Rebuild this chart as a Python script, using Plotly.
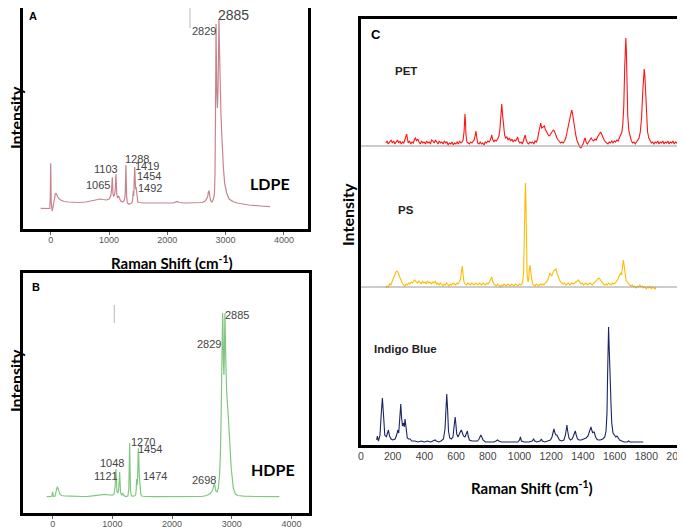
import plotly.graph_objects as go

# ---------------- DATA ----------------
# Panel A : LDPE (Raman shift cm-1, intensity a.u.)
LDPE_X = [-172, -100, -40, -15, -8, -3, 0, 3, 8, 14, 25, 40, 60, 80, 91, 105, 130, 170, 230, 300, 400, 500, 600, 700, 800, 850, 900, 960,
          1000, 1030, 1045, 1052, 1057, 1062, 1068, 1080, 1095, 1108, 1115, 1120, 1125, 1132, 1145, 1165, 1175, 1200, 1240, 1265, 1278,
          1285, 1290, 1295, 1302, 1315, 1340, 1380, 1400, 1412, 1418, 1424, 1430, 1435, 1440, 1446, 1455, 1465, 1472, 1480, 1495, 1520,
          1600, 1800, 2000, 2100, 2170, 2200, 2300, 2400, 2500, 2600, 2650, 2690, 2705, 2716, 2728, 2745, 2765, 2790, 2808, 2818, 2826,
          2833, 2836, 2840, 2850, 2860, 2870, 2878, 2886, 2893, 2905, 2920, 2933, 2947, 2961, 2985, 3018, 3060, 3132, 3200, 3400, 3600, 3762]
LDPE_Y = [20.7, 20.5, 20.5, 20.5, 30, 55, 65.7, 55, 28, 19, 18, 22, 30, 35, 36, 34, 31, 29, 27.5, 27, 26.5, 26.5, 27, 28, 29.5, 30, 29.5, 29,
          30, 33, 40, 48, 51.7, 45, 35, 33, 34, 40, 50, 54.7, 48, 36, 31, 33, 31, 28, 27, 29, 35,
          52, 64, 50, 33, 26, 25, 25.5, 27, 32, 38, 33, 45, 60, 62, 55, 40, 42, 38, 30, 27, 26.5,
          26, 26, 26, 26, 27.5, 26.5, 26, 26, 26, 26.5, 28, 32, 37, 38.3, 33, 28, 27, 30, 35, 55, 110,
          190, 205, 180, 135, 121, 140, 190, 210, 185, 140, 115, 96, 75, 62, 45, 36, 30, 27.3, 26, 24, 23, 22.3]
LDPE_LABELS = ["2885", "2829", "1103", "1065", "1288", "1419", "1454", "1492"]
LDPE_LAB_X = [3127, 2630, 948, 817, 1475, 1647, 1686, 1703]
LDPE_LAB_Y = [214, 198, 59.7, 44, 69.7, 63, 53.3, 40.7]
ARTIFACT_A_X = [2389, 2389]
ARTIFACT_A_Y = [201, 228]

# Panel B : HDPE
HDPE_X = [-100, -40, -15, -6, 0, 6, 15, 40, 60, 70, 77, 88, 100, 120, 150, 200, 300, 400, 500, 600, 700, 800, 876, 950, 1000, 1030,
          1045, 1053, 1060, 1066, 1075, 1090, 1105, 1115, 1122, 1128, 1138, 1160, 1172, 1178, 1185, 1220, 1260, 1275, 1282, 1289, 1295,
          1303, 1320, 1360, 1390, 1400, 1406, 1412, 1420, 1428, 1435, 1441, 1450, 1460, 1475, 1490, 1550, 1700, 1900, 2100, 2300, 2500,
          2580, 2640, 2680, 2698, 2707, 2718, 2732, 2752, 2775, 2795, 2810, 2822, 2832, 2840, 2846, 2852, 2860, 2868, 2876, 2882, 2885,
          2890, 2900, 2915, 2942, 2965, 2990, 3025, 3060, 3100, 3200, 3400, 3600, 3796]
HDPE_Y = [16.3, 16.3, 16.5, 19, 21.3, 18, 16.5, 17, 22, 25.5, 26.3, 25, 22, 19, 17.5, 17, 16.8, 16.5, 16.5, 16.7, 17.2, 18, 18.7, 18, 17.8, 19,
          26, 38, 44, 36, 22, 20, 23, 33, 41, 32, 20, 18, 19, 20, 18, 16.5, 17, 24, 45, 69.7, 48,
          22, 17, 16.8, 18, 24, 34, 28, 30, 50, 64.7, 58, 38, 24, 19, 17, 16.5, 16.3, 16.3, 16.3, 16.3, 16.5,
          17.5, 19.5, 23, 28, 29.7, 27, 22, 21, 25, 38, 60, 100, 150, 185, 200, 190, 150, 138, 160, 195, 200,
          185, 150, 120, 96, 70, 45, 25, 19, 17.5, 16.8, 16.5, 16.3, 16.3]
HDPE_LABELS = ["2885", "2829", "1270", "1454", "1048", "1121", "1474", "2698"]
HDPE_LAB_X = [3092, 2618, 1507, 1630, 998, 893, 1714, 2540]
HDPE_LAB_Y = [198, 168.7, 71.3, 63.7, 49.7, 37, 37, 33]
ARTIFACT_B_X = [1032, 1032]
ARTIFACT_B_Y = [190, 208]

# Panel C : PET, PS, Indigo Blue (intensity above own baseline)
PET = [(156, 3), (165, 5), (172, 2), (180, 4), (190, 6), (198, 3), (206, 5), (214, 2), (222, 4), (230, 6), (238, 3), (246, 5), (254, 2),
       (262, 4), (270, 3), (278, 6), (284, 10), (288, 12), (292, 7), (298, 3), (306, 5), (314, 2), (322, 4), (330, 3), (338, 7), (344, 8),
       (350, 5), (358, 7), (366, 4), (374, 2), (382, 5), (390, 3), (398, 4), (406, 2), (414, 5), (422, 3), (430, 4), (438, 2), (446, 6),
       (454, 5), (462, 3), (470, 6), (478, 4), (486, 2), (494, 5), (502, 3), (510, 4), (518, 2), (526, 5), (534, 3), (542, 4), (550, 1),
       (558, 3), (566, 2), (574, 4), (582, 1), (590, 3), (598, 2), (606, 4), (614, 2), (622, 5), (630, 3), (638, 4), (644, 6), (650, 14),
       (654, 28), (656, 32), (658, 28), (662, 12), (668, 4), (676, 3), (684, 2), (692, 4), (700, 3), (708, 5), (714, 6), (720, 10),
       (725, 15), (730, 9), (736, 3), (744, 2), (752, 4), (760, 2), (768, 3), (776, 1), (784, 4), (792, 3), (800, 5), (808, 4), (816, 6),
       (822, 9), (825, 11), (830, 7), (838, 4), (846, 6), (854, 5), (862, 7), (870, 10), (876, 16), (882, 30), (888, 42), (894, 30),
       (900, 15), (906, 11), (912, 8), (920, 9), (928, 6), (936, 8), (944, 5), (952, 7), (960, 4), (968, 6), (976, 5), (984, 7), (988, 9),
       (994, 5), (1002, 3), (1010, 4), (1018, 2), (1026, 6), (1032, 10), (1036, 11), (1042, 6), (1050, 3), (1058, 2), (1066, 4), (1074, 3),
       (1082, 4), (1090, 2), (1098, 5), (1106, 4), (1114, 7), (1122, 14), (1130, 22), (1134, 23), (1140, 18), (1146, 19), (1152, 20),
       (1157, 20), (1162, 17), (1170, 14), (1178, 12), (1186, 10), (1194, 11), (1200, 13), (1208, 15), (1214, 16), (1220, 15), (1228, 11),
       (1236, 8), (1244, 6), (1252, 4), (1260, 3), (1268, 4), (1276, 3), (1284, 5), (1292, 8), (1300, 14), (1310, 22), (1318, 30),
       (1324, 35), (1329, 36), (1334, 33), (1340, 26), (1348, 18), (1356, 10), (1364, 5), (1372, 2), (1380, -1), (1388, -2), (1396, 0),
       (1404, 3), (1410, 7), (1414, 8), (1420, 4), (1428, 2), (1436, 4), (1444, 6), (1452, 8), (1460, 6), (1468, 5), (1476, 7), (1484, 6),
       (1492, 9), (1500, 11), (1506, 13), (1512, 14), (1518, 12), (1526, 8), (1534, 6), (1542, 4), (1550, 3), (1558, 2), (1566, 4),
       (1574, 3), (1582, 5), (1590, 3), (1598, 5), (1606, 4), (1614, 6), (1622, 5), (1630, 8), (1638, 11), (1646, 14), (1652, 22),
       (1658, 40), (1664, 80), (1668, 104), (1671, 108), (1674, 96), (1678, 62), (1683, 30), (1690, 15), (1698, 8), (1706, 5), (1714, 3),
       (1722, 4), (1730, 2), (1738, 4), (1746, 5), (1754, 8), (1762, 14), (1770, 28), (1778, 55), (1783, 72), (1787, 77), (1791, 70),
       (1796, 48), (1802, 26), (1808, 14), (1816, 8), (1824, 5), (1832, 3), (1840, 4), (1848, 2), (1856, 4), (1864, 3), (1872, 5),
       (1880, 2), (1888, 4), (1896, 3), (1904, 5), (1912, 2), (1920, 4), (1928, 3), (1936, 5), (1944, 2), (1952, 4), (1960, 3),
       (1968, 5), (1976, 2), (1984, 4), (1992, 3), (2000, 4)]
PS = [(156, -1), (164, 1), (172, 0), (180, 3), (188, 2), (196, 5), (204, 8), (212, 12), (220, 15), (228, 16), (236, 14), (244, 10),
      (252, 6), (260, 4), (268, 2), (276, 1), (284, 3), (292, 2), (300, 4), (308, 3), (316, 5), (324, 4), (332, 6), (340, 7), (348, 5),
      (356, 4), (364, 6), (372, 5), (380, 3), (388, 6), (396, 4), (404, 5), (412, 3), (420, 6), (428, 4), (436, 5), (444, 3), (452, 5),
      (460, 4), (468, 6), (476, 3), (484, 4), (492, 2), (500, 4), (508, 3), (516, 1), (524, 3), (532, 2), (540, 4), (548, 2), (556, 1),
      (564, 3), (572, 2), (580, 4), (588, 3), (596, 2), (604, 4), (612, 3), (620, 5), (628, 8), (634, 16), (639, 21), (644, 13),
      (650, 5), (658, 3), (666, 2), (674, 4), (682, 3), (690, 2), (698, 4), (706, 3), (714, 2), (722, 4), (730, 3), (738, 2), (746, 4),
      (754, 3), (762, 2), (770, 4), (778, 3), (786, 2), (794, 4), (802, 3), (810, 5), (818, 8), (825, 10), (830, 6), (838, 3), (846, 2),
      (854, 1), (862, 3), (870, 2), (878, 0), (886, 2), (894, 1), (902, 3), (910, 2), (918, 1), (926, 3), (934, 2), (942, 1), (950, 3),
      (958, 2), (966, 1), (974, 3), (982, 2), (990, 1), (998, 3), (1006, 2), (1014, 3), (1020, 5), (1026, 15), (1030, 45), (1034, 90),
      (1037, 104), (1040, 90), (1044, 45), (1048, 12), (1054, 5), (1058, 8), (1062, 18), (1066, 22), (1070, 16), (1076, 6), (1082, 3),
      (1090, 2), (1098, 1), (1106, 3), (1114, 2), (1122, 1), (1130, 3), (1138, 2), (1146, 3), (1154, 2), (1162, 4), (1170, 5), (1178, 7),
      (1186, 10), (1192, 14), (1196, 13), (1202, 11), (1208, 13), (1214, 16), (1222, 17), (1230, 18), (1236, 14), (1244, 10), (1252, 7),
      (1260, 5), (1268, 4), (1276, 3), (1284, 4), (1292, 2), (1300, 3), (1308, 4), (1316, 2), (1324, 3), (1332, 4), (1340, 3), (1348, 4),
      (1356, 5), (1364, 6), (1372, 7), (1380, 5), (1388, 3), (1396, 4), (1404, 2), (1412, 3), (1420, 4), (1428, 2), (1436, 3), (1444, 4),
      (1452, 3), (1460, 2), (1468, 4), (1476, 5), (1484, 6), (1492, 8), (1500, 9), (1506, 8), (1514, 6), (1522, 4), (1530, 3), (1538, 2),
      (1546, 3), (1554, 2), (1562, 4), (1570, 3), (1578, 2), (1586, 4), (1594, 3), (1602, 4), (1610, 5), (1618, 7), (1626, 10),
      (1632, 13), (1638, 14), (1644, 12), (1650, 20), (1655, 27), (1660, 22), (1666, 12), (1672, 7), (1680, 5), (1688, 3), (1696, 2),
      (1704, 1), (1712, 2), (1720, 0), (1728, 1), (1736, -1), (1744, 1), (1752, 0), (1760, 2), (1768, 0), (1776, 1), (1784, -1),
      (1792, 0), (1800, -2), (1808, 0), (1816, -1), (1824, 1), (1832, -2), (1840, 0), (1848, -1), (1856, -2), (1861, 0)]
INDIGO = [(99, 3), (103, 7), (110, 2), (120, 8), (128, 30), (135, 45), (142, 28), (150, 8), (160, 6), (168, 10), (173, 13), (180, 7),
          (190, 4), (200, 3), (215, 4), (225, 8), (232, 13), (238, 10), (244, 22), (251, 39), (256, 25), (262, 17), (268, 20), (273, 16),
          (278, 24), (284, 14), (292, 5), (300, 4), (310, 4), (320, 2), (340, 2), (360, 1), (380, 2), (400, 1), (420, 2), (440, 1),
          (460, 2), (467, 3), (475, 2), (490, 1), (505, 2), (520, 4), (530, 14), (536, 35), (541, 49), (546, 35), (552, 12), (560, 5),
          (570, 4), (580, 6), (586, 15), (590, 24), (594, 26), (598, 20), (604, 9), (612, 6), (620, 9), (628, 12), (632, 13), (638, 11),
          (646, 7), (656, 6), (664, 9), (671, 12), (676, 7), (684, 3), (700, 2), (720, 2), (735, 2), (745, 4), (752, 7), (756, 8),
          (762, 6), (770, 3), (785, 1), (800, 1), (820, 1), (840, 1), (852, 2), (861, 3), (870, 2), (885, 1), (900, 1), (930, 1),
          (960, 1), (990, 1), (1000, 3), (1006, 6), (1012, 2), (1030, 1), (1060, 1), (1080, 2), (1089, 4), (1096, 2), (1110, 1),
          (1130, 2), (1138, 4), (1144, 2), (1160, 1), (1180, 2), (1195, 3), (1205, 6), (1212, 12), (1217, 14), (1224, 10), (1230, 8),
          (1236, 8), (1242, 6), (1252, 3), (1265, 2), (1280, 3), (1290, 8), (1296, 16), (1299, 18), (1304, 12), (1312, 5), (1322, 3),
          (1332, 4), (1340, 7), (1347, 11), (1352, 12), (1358, 8), (1366, 4), (1376, 3), (1390, 3), (1405, 4), (1420, 5), (1432, 7),
          (1440, 11), (1446, 15), (1451, 16), (1456, 13), (1462, 10), (1467, 11), (1472, 11), (1478, 7), (1486, 4), (1496, 3), (1510, 3),
          (1525, 4), (1538, 6), (1546, 12), (1552, 30), (1556, 70), (1559, 105), (1562, 116), (1565, 100), (1568, 70), (1571, 58),
          (1574, 56), (1577, 40), (1582, 20), (1590, 10), (1600, 7), (1608, 6), (1615, 7), (1622, 5), (1632, 3), (1645, 2), (1660, 1),
          (1680, 1), (1688, 2), (1696, 1), (1720, 1), (1750, 1), (1781, 1)]
C_NAMES = ["PET", "PS", "Indigo Blue"]
C_OFFSETS = [299, 158, 2]          # stacking offsets of each spectrum
X_TICKS_AB = [0, 1000, 2000, 3000, 4000]
X_TICKS_C = [0, 200, 400, 600, 800, 1000, 1200, 1400, 1600, 1800, 2000]

# ---------------- FIGURE ----------------
# the page body has an 8 px default margin: the figure is sized to fit the
# window and all positions below are given in window pixels.
OFF = 8
W, H = 685 - OFF, 528 - OFF
def px(x): return (x - OFF) / W
def py(y): return 1 - (y - OFF) / H

fig = go.Figure()

fig.add_trace(go.Scatter(x=LDPE_X, y=LDPE_Y, mode="lines", line=dict(color="#c8848e", width=1.2),
                         xaxis="x", yaxis="y", showlegend=False))
fig.add_trace(go.Scatter(x=ARTIFACT_A_X, y=ARTIFACT_A_Y, mode="lines", line=dict(color="#bbbbbb", width=1),
                         xaxis="x", yaxis="y", showlegend=False))
fig.add_trace(go.Scatter(x=HDPE_X, y=HDPE_Y, mode="lines", line=dict(color="#80c880", width=1.2),
                         xaxis="x2", yaxis="y2", showlegend=False))
fig.add_trace(go.Scatter(x=ARTIFACT_B_X, y=ARTIFACT_B_Y, mode="lines", line=dict(color="#bbbbbb", width=1),
                         xaxis="x2", yaxis="y2", showlegend=False))

c_colors = ["#ff1414", "#ffbb00", "#1b2566"]
for data, off, col in zip([PET, PS, INDIGO], C_OFFSETS, c_colors):
    xs = [p[0] for p in data]
    ys = [p[1] + off for p in data]
    fig.add_trace(go.Scatter(x=xs, y=ys, mode="lines", line=dict(color=col, width=1.1),
                             xaxis="x3", yaxis="y3", showlegend=False))

tickfont_ab = dict(family="Liberation Sans, Arial", size=9, color="#555")
box = dict(showline=True, linecolor="black", linewidth=2.5, mirror=True, showgrid=False, zeroline=False,
           automargin=False)

fig.update_layout(
    template="none",
    width=W, height=H, margin=dict(l=0, r=0, t=0, b=0, autoexpand=False),
    paper_bgcolor="white", plot_bgcolor="white",
    xaxis=dict(domain=[px(23), px(308)], range=[-475, 4413], tickvals=X_TICKS_AB, ticks="outside", ticklen=3,
               tickcolor="#666", tickfont=tickfont_ab, anchor="y", ticklabeloverflow="allow",
               ticklabelstandoff=-3, **box),
    yaxis=dict(domain=[py(229), py(8.0001)], range=[0, 228 * (229 - 8) / 228], showticklabels=False, ticks="",
               anchor="x", **box),
    xaxis2=dict(domain=[px(23), px(309)], range=[-497, 4293], tickvals=X_TICKS_AB, ticks="outside", ticklen=3,
                tickcolor="#666", tickfont=tickfont_ab, anchor="y2", ticklabeloverflow="allow",
                ticklabelstandoff=-3, **box),
    yaxis2=dict(domain=[py(513), py(273)], range=[0, 240], showticklabels=False, ticks="", anchor="x2", **box),
    xaxis3=dict(domain=[px(361), px(678)], range=[0, 2000], tickvals=X_TICKS_C, ticks="",
                tickfont=dict(family="Liberation Sans, Arial", size=10.5, color="#444"), anchor="y3",
                ticklabeloverflow="allow", **box),
    yaxis3=dict(domain=[py(445), py(19)], range=[0, 426], showticklabels=False, ticks="", anchor="x3", **box),
)

# baselines in panel C
fig.add_shape(type="line", xref="x3", yref="y3", x0=0, x1=2000, y0=C_OFFSETS[0], y1=C_OFFSETS[0],
              line=dict(color="#999999", width=1))
fig.add_shape(type="line", xref="paper", yref="y3", x0=px(361), x1=1, y0=C_OFFSETS[1], y1=C_OFFSETS[1],
              line=dict(color="#999999", width=1))

ann = []
lab_font = dict(family="Liberation Sans, Arial", size=11, color="#444")
for t, x, y in zip(LDPE_LABELS, LDPE_LAB_X, LDPE_LAB_Y):
    f = dict(lab_font)
    if t == "2885":
        f["size"] = 14
    ann.append(dict(text=t, x=x, y=y, xref="x", yref="y", showarrow=False, font=f,
                    xanchor="center", yanchor="middle"))
for t, x, y in zip(HDPE_LABELS, HDPE_LAB_X, HDPE_LAB_Y):
    ann.append(dict(text=t, x=x, y=y, xref="x2", yref="y2", showarrow=False, font=lab_font,
                    xanchor="center", yanchor="middle"))


def paper_text(text, x, y, font, angle=0):
    return dict(text=text, x=px(x), y=py(y), xref="paper", yref="paper", showarrow=False,
                xanchor="center", yanchor="middle", textangle=angle, font=font)


title_font = dict(family="Lato, Open Sans", size=15, color="black")
int_font = dict(family="Lato", size=16, color="black")
ann += [
    paper_text("<b>LDPE</b>", 270, 183, dict(family="Lato", size=16, color="black")),
    paper_text("<b>HDPE</b>", 273, 469, dict(family="Lato", size=16, color="black")),
    paper_text("<b>A</b>", 33, 16, dict(family="Liberation Sans", size=11, color="black")),
    paper_text("<b>B</b>", 36, 287, dict(family="Liberation Sans", size=11, color="black")),
    paper_text("<b>C</b>", 376, 34, dict(family="Liberation Sans", size=13, color="black")),
    paper_text("<b>Raman Shift (cm<sup>-1</sup>)</b>", 172, 262, title_font),
    paper_text("<b>Raman Shift (cm<sup>-1</sup>)</b>", 532, 487, title_font),
    paper_text("<b>Intensity</b>", 15, 118, int_font, -90),
    paper_text("<b>Intensity</b>", 15, 381, int_font, -90),
    paper_text("<b>Intensity</b>", 348, 215, int_font, -90),
]
c_lab_pos = [(406, 71), (406, 210), (405, 349)]
for name, (x, y) in zip(C_NAMES, c_lab_pos):
    ann.append(paper_text("<b>%s</b>" % name, x, y, dict(family="Liberation Sans", size=11.5, color="#222")))
fig.update_layout(annotations=ann)

fig.write_html("out.html")
